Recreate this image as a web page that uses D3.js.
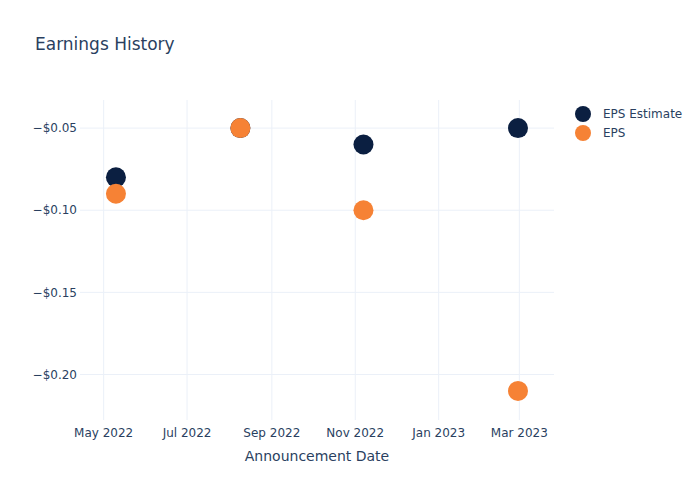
<!DOCTYPE html>
<html>
<head>
<meta charset="utf-8">
<script src="https://cdn.jsdelivr.net/npm/d3@7"></script>
<style>
  body { margin: 0; background: #fff; }
  svg text { font-family: "DejaVu Sans", sans-serif; fill: #2a3f5f; }
</style>
</head>
<body>
<div id="chart"></div>
<script>
// announcement dates and eps values
var dates = ["2022-05-10", "2022-08-09", "2022-11-07", "2023-02-28"];
var epsEstimate = [-0.08, -0.05, -0.06, -0.05];
var epsActual = [-0.09, -0.05, -0.10, -0.21];
var yTicks = [-0.05, -0.10, -0.15, -0.20];
var xTicks = ["2022-05-01", "2022-07-01", "2022-09-01", "2022-11-01", "2023-01-01", "2023-03-01"];
var seriesNames = ["EPS Estimate", "EPS"];
var colors = ["#0b1f41", "#f68235"];

var W = 700, H = 500;
var m = { left: 80, top: 100, right: 146, bottom: 80 };
var parse = d3.timeParse("%Y-%m-%d");

var svg = d3.select("#chart").append("svg")
  .attr("width", W).attr("height", H);

var x = d3.scaleTime()
  .domain([new Date(2022, 3, 13, 17), new Date(2023, 2, 26, 8)])
  .range([m.left, W - m.right]);
var y = d3.scaleLinear()
  .domain([-0.2277, -0.0329])
  .range([H - m.bottom, m.top]);

// grid
svg.append("g").selectAll("line").data(xTicks).enter().append("line")
  .attr("x1", function(d) { return x(parse(d)); })
  .attr("x2", function(d) { return x(parse(d)); })
  .attr("y1", m.top).attr("y2", H - m.bottom)
  .attr("stroke", "#ebf0f8").attr("stroke-width", 1);
svg.append("g").selectAll("line").data(yTicks).enter().append("line")
  .attr("x1", m.left).attr("x2", W - m.right)
  .attr("y1", function(d) { return y(d); })
  .attr("y2", function(d) { return y(d); })
  .attr("stroke", "#ebf0f8").attr("stroke-width", 1);

// tick labels
var fmt = function(v) { return "\u2212$" + Math.abs(v).toFixed(2); };
svg.append("g").selectAll("text").data(yTicks).enter().append("text")
  .attr("x", m.left - 3).attr("y", function(d) { return y(d); })
  .attr("dy", "0.35em").attr("text-anchor", "end")
  .style("font-size", "12px").text(fmt);
var xfmt = d3.timeFormat("%b %Y");
svg.append("g").selectAll("text").data(xTicks).enter().append("text")
  .attr("x", function(d) { return x(parse(d)); })
  .attr("y", H - m.bottom + 13).attr("dy", "0.35em")
  .attr("text-anchor", "middle")
  .style("font-size", "12px")
  .text(function(d) { return xfmt(parse(d)); });

// titles
svg.append("text").attr("x", 35).attr("y", 50)
  .style("font-size", "17px").text("Earnings History");
svg.append("text").attr("x", (m.left + W - m.right) / 2).attr("y", 461)
  .attr("text-anchor", "middle")
  .style("font-size", "14px").text("Announcement Date");

// markers
[epsEstimate, epsActual].forEach(function(vals, i) {
  svg.append("g").selectAll("circle").data(vals).enter().append("circle")
    .attr("cx", function(d, j) { return x(parse(dates[j])); })
    .attr("cy", function(d) { return y(d); })
    .attr("r", 10)
    .attr("fill", colors[i]);
});

// legend
var leg = svg.append("g").attr("transform", "translate(583,114)");
seriesNames.forEach(function(name, i) {
  leg.append("circle").attr("cx", 0).attr("cy", i * 19).attr("r", 8)
    .attr("fill", colors[i]);
  leg.append("text").attr("x", 20).attr("y", i * 19).attr("dy", "0.35em")
    .style("font-size", "12px").text(name);
});
</script>
</body>
</html>
